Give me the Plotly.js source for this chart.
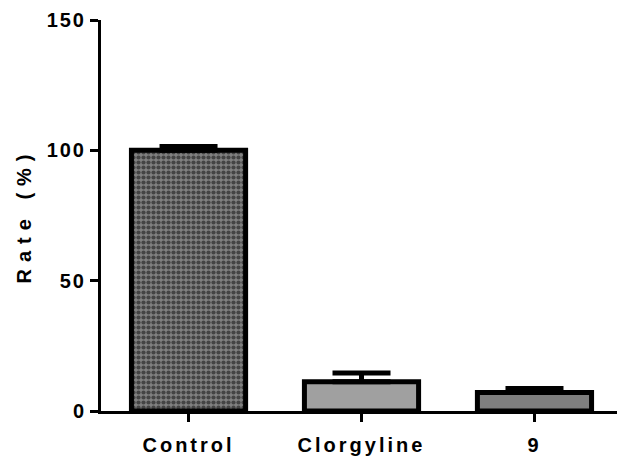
<!DOCTYPE html>
<html>
<head>
<meta charset="utf-8">
<script src="https://cdn.plot.ly/plotly-3.0.1.min.js"></script>
<style>
  html, body { margin: 0; padding: 0; background: #fff; }
  #chart { width: 617px; height: 456px; }
  .xtick text { letter-spacing: 3px; }
  .ytick text { letter-spacing: 2px; }
  .ytitle { letter-spacing: 7px; }
</style>
</head>
<body>
<div id="chart"></div>
<script>
const categories = ["Control", "Clorgyline", "9"];
const rateValues = [100, 11.2, 7.1];
const rateErrors = [1.5, 3.4, 1.5];
const yTickValues = [0, 50, 100, 150];
const yTickLabels = ["0", "50", "100", "150"];

const boldFont = "'Liberation Sans', Arial, sans-serif";

const trace = {
  type: "bar",
  x: categories,
  y: rateValues,
  width: 0.66,
  marker: {
    color: ["#808080", "#a0a0a0", "#7f7f7f"],
    line: { color: "#000000", width: 5 },
    pattern: {
      shape: [".", "", ""],
      fillmode: "overlay",
      fgcolor: "#000000",
      fgopacity: 1,
      size: 5,
      solidity: 0.55
    }
  },
  error_y: {
    type: "data",
    symmetric: false,
    array: rateErrors,
    arrayminus: [0, 0, 0],
    color: "#000000",
    thickness: 5,
    width: 29
  },
  hoverinfo: "skip"
};

const layout = {
  width: 617,
  height: 456,
  margin: { l: 101, r: 0, t: 20, b: 45 },
  paper_bgcolor: "#ffffff",
  plot_bgcolor: "#ffffff",
  showlegend: false,
  xaxis: {
    type: "category",
    range: [-0.506, 2.477],
    showline: true,
    linecolor: "#000000",
    linewidth: 3,
    showgrid: false,
    zeroline: false,
    ticks: "outside",
    ticklen: 8,
    tickwidth: 3,
    tickcolor: "#000000",
    ticklabelstandoff: 6,
    tickfont: { family: boldFont, size: 20, color: "#000000", weight: "bold" },
    fixedrange: true
  },
  yaxis: {
    range: [0, 150],
    tickvals: yTickValues,
    ticktext: yTickLabels,
    showline: true,
    linecolor: "#000000",
    linewidth: 3,
    showgrid: false,
    zeroline: false,
    ticks: "outside",
    ticklen: 8,
    tickwidth: 3,
    tickcolor: "#000000",
    tickfont: { family: boldFont, size: 20, color: "#000000", weight: "bold" },
    title: {
      text: "Rate (%)",
      font: { family: boldFont, size: 20, color: "#000000", weight: "bold" },
      standoff: 10
    },
    fixedrange: true
  }
};

Plotly.newPlot("chart", [trace], layout, { displayModeBar: false, staticPlot: true });
</script>
</body>
</html>
